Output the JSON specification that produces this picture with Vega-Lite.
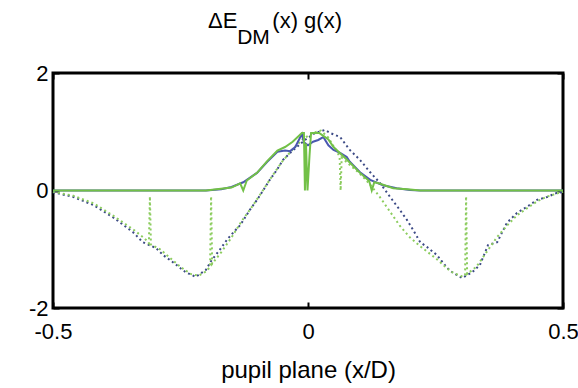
{
  "$schema": "https://vega.github.io/schema/vega-lite/v6.json",
  "autosize": "none",
  "padding": {"left": 53, "top": 73, "right": 15, "bottom": 80},
  "width": 510,
  "height": 235,
  "title": {
    "text": "ΔE\u00a0\u00a0\u00a0\u00a0\u00a0\u2009(x) g(x)",
    "subtitle": "\u200b\u00a0\u00a0\u00a0\u00a0\u00a0DM",
    "anchor": "start",
    "frame": "group",
    "dx": 155,
    "offset": 13,
    "subtitlePadding": -6,
    "font": "Liberation Sans, sans-serif",
    "subtitleFont": "Liberation Sans, sans-serif",
    "fontSize": 22,
    "subtitleFontSize": 21,
    "fontWeight": "normal",
    "color": "#000",
    "subtitleColor": "#000"
  },
  "config": {
    "view": {"stroke": "#000", "strokeWidth": 3},
    "axis": {
      "labelFont": "Liberation Sans, sans-serif",
      "titleFont": "Liberation Sans, sans-serif",
      "labelFontSize": 22,
      "titleFontSize": 24,
      "titleFontWeight": "normal",
      "labelColor": "#000",
      "titleColor": "#000",
      "domain": false,
      "grid": false,
      "tickColor": "#000",
      "tickWidth": 2
    }
  },
  "resolve": {"axis": {"x": "independent", "y": "independent"}},
  "datasets": {
    "curves": [
      {"s": "bd", "x": -0.5, "y": -0.03}, {"s": "bd", "x": -0.46, "y": -0.11}, {"s": "bd", "x": -0.42, "y": -0.25}, {"s": "bd", "x": -0.38, "y": -0.47}, {"s": "bd", "x": -0.343, "y": -0.71}, {"s": "bd", "x": -0.324, "y": -0.88}, {"s": "bd", "x": -0.298, "y": -0.98}, {"s": "bd", "x": -0.284, "y": -1.1}, {"s": "bd", "x": -0.265, "y": -1.22}, {"s": "bd", "x": -0.24, "y": -1.39}, {"s": "bd", "x": -0.22, "y": -1.47}, {"s": "bd", "x": -0.2, "y": -1.35}, {"s": "bd", "x": -0.19, "y": -1.2}, {"s": "bd", "x": -0.173, "y": -1.01}, {"s": "bd", "x": -0.159, "y": -0.84}, {"s": "bd", "x": -0.147, "y": -0.72}, {"s": "bd", "x": -0.133, "y": -0.59}, {"s": "bd", "x": -0.114, "y": -0.33}, {"s": "bd", "x": -0.1, "y": -0.16}, {"s": "bd", "x": -0.088, "y": 0.0}, {"s": "bd", "x": -0.075, "y": 0.18}, {"s": "bd", "x": -0.061, "y": 0.35}, {"s": "bd", "x": -0.049, "y": 0.52}, {"s": "bd", "x": -0.035, "y": 0.64}, {"s": "bd", "x": -0.022, "y": 0.74}, {"s": "bd", "x": -0.006, "y": 0.86}, {"s": "bd", "x": 0.014, "y": 0.98}, {"s": "bd", "x": 0.033, "y": 1.03}, {"s": "bd", "x": 0.043, "y": 0.98}, {"s": "bd", "x": 0.063, "y": 0.91}, {"s": "bd", "x": 0.082, "y": 0.69}, {"s": "bd", "x": 0.102, "y": 0.52}, {"s": "bd", "x": 0.122, "y": 0.31}, {"s": "bd", "x": 0.141, "y": 0.13}, {"s": "bd", "x": 0.161, "y": -0.11}, {"s": "bd", "x": 0.18, "y": -0.33}, {"s": "bd", "x": 0.194, "y": -0.5}, {"s": "bd", "x": 0.206, "y": -0.67}, {"s": "bd", "x": 0.22, "y": -0.88}, {"s": "bd", "x": 0.233, "y": -0.96}, {"s": "bd", "x": 0.253, "y": -1.1}, {"s": "bd", "x": 0.273, "y": -1.32}, {"s": "bd", "x": 0.284, "y": -1.4}, {"s": "bd", "x": 0.302, "y": -1.49}, {"s": "bd", "x": 0.322, "y": -1.39}, {"s": "bd", "x": 0.337, "y": -1.27}, {"s": "bd", "x": 0.353, "y": -0.93}, {"s": "bd", "x": 0.371, "y": -0.88}, {"s": "bd", "x": 0.39, "y": -0.55}, {"s": "bd", "x": 0.41, "y": -0.38}, {"s": "bd", "x": 0.429, "y": -0.28}, {"s": "bd", "x": 0.449, "y": -0.16}, {"s": "bd", "x": 0.469, "y": -0.11}, {"s": "bd", "x": 0.488, "y": -0.04}, {"s": "bd", "x": 0.5, "y": -0.03},

      {"s": "gd", "x": -0.5, "y": -0.02}, {"s": "gd", "x": -0.46, "y": -0.09}, {"s": "gd", "x": -0.42, "y": -0.22}, {"s": "gd", "x": -0.38, "y": -0.44}, {"s": "gd", "x": -0.34, "y": -0.68}, {"s": "gd", "x": -0.32, "y": -0.82}, {"s": "gd", "x": -0.312, "y": -0.9}, {"s": "gd", "x": -0.31, "y": -0.1}, {"s": "gd", "x": -0.308, "y": -0.92}, {"s": "gd", "x": -0.29, "y": -1.0}, {"s": "gd", "x": -0.27, "y": -1.15}, {"s": "gd", "x": -0.25, "y": -1.3}, {"s": "gd", "x": -0.23, "y": -1.42}, {"s": "gd", "x": -0.215, "y": -1.45}, {"s": "gd", "x": -0.2, "y": -1.38}, {"s": "gd", "x": -0.192, "y": -1.3}, {"s": "gd", "x": -0.19, "y": -0.1}, {"s": "gd", "x": -0.188, "y": -1.25}, {"s": "gd", "x": -0.17, "y": -1.05}, {"s": "gd", "x": -0.15, "y": -0.8}, {"s": "gd", "x": -0.13, "y": -0.52}, {"s": "gd", "x": -0.11, "y": -0.28}, {"s": "gd", "x": -0.09, "y": -0.02}, {"s": "gd", "x": -0.07, "y": 0.25}, {"s": "gd", "x": -0.05, "y": 0.5}, {"s": "gd", "x": -0.03, "y": 0.7}, {"s": "gd", "x": -0.01, "y": 0.88}, {"s": "gd", "x": 0.01, "y": 0.98}, {"s": "gd", "x": 0.025, "y": 1.02}, {"s": "gd", "x": 0.04, "y": 0.9}, {"s": "gd", "x": 0.055, "y": 0.68}, {"s": "gd", "x": 0.062, "y": 0.58}, {"s": "gd", "x": 0.064, "y": 0.0}, {"s": "gd", "x": 0.066, "y": 0.56}, {"s": "gd", "x": 0.08, "y": 0.45}, {"s": "gd", "x": 0.1, "y": 0.3}, {"s": "gd", "x": 0.12, "y": 0.12}, {"s": "gd", "x": 0.14, "y": -0.1}, {"s": "gd", "x": 0.16, "y": -0.35}, {"s": "gd", "x": 0.18, "y": -0.6}, {"s": "gd", "x": 0.2, "y": -0.8}, {"s": "gd", "x": 0.22, "y": -0.95}, {"s": "gd", "x": 0.25, "y": -1.15}, {"s": "gd", "x": 0.28, "y": -1.38}, {"s": "gd", "x": 0.3, "y": -1.46}, {"s": "gd", "x": 0.308, "y": -1.45}, {"s": "gd", "x": 0.31, "y": -0.1}, {"s": "gd", "x": 0.312, "y": -1.42}, {"s": "gd", "x": 0.33, "y": -1.3}, {"s": "gd", "x": 0.35, "y": -1.05}, {"s": "gd", "x": 0.37, "y": -0.8}, {"s": "gd", "x": 0.39, "y": -0.6}, {"s": "gd", "x": 0.41, "y": -0.42}, {"s": "gd", "x": 0.43, "y": -0.3}, {"s": "gd", "x": 0.45, "y": -0.18}, {"s": "gd", "x": 0.47, "y": -0.1}, {"s": "gd", "x": 0.5, "y": -0.02},

      {"s": "bs", "x": -0.5, "y": 0}, {"s": "bs", "x": -0.2, "y": 0}, {"s": "bs", "x": -0.17, "y": 0.02}, {"s": "bs", "x": -0.15, "y": 0.06}, {"s": "bs", "x": -0.127, "y": 0.14}, {"s": "bs", "x": -0.11, "y": 0.24}, {"s": "bs", "x": -0.1, "y": 0.3}, {"s": "bs", "x": -0.08, "y": 0.49}, {"s": "bs", "x": -0.06, "y": 0.66}, {"s": "bs", "x": -0.045, "y": 0.68}, {"s": "bs", "x": -0.035, "y": 0.67}, {"s": "bs", "x": -0.025, "y": 0.74}, {"s": "bs", "x": -0.012, "y": 0.96}, {"s": "bs", "x": -0.008, "y": 0.82}, {"s": "bs", "x": 0.0, "y": 0.77}, {"s": "bs", "x": 0.01, "y": 0.83}, {"s": "bs", "x": 0.02, "y": 0.86}, {"s": "bs", "x": 0.03, "y": 0.91}, {"s": "bs", "x": 0.04, "y": 0.77}, {"s": "bs", "x": 0.05, "y": 0.69}, {"s": "bs", "x": 0.063, "y": 0.64}, {"s": "bs", "x": 0.076, "y": 0.57}, {"s": "bs", "x": 0.082, "y": 0.49}, {"s": "bs", "x": 0.102, "y": 0.31}, {"s": "bs", "x": 0.122, "y": 0.18}, {"s": "bs", "x": 0.147, "y": 0.09}, {"s": "bs", "x": 0.174, "y": 0.04}, {"s": "bs", "x": 0.2, "y": 0.01}, {"s": "bs", "x": 0.22, "y": 0}, {"s": "bs", "x": 0.5, "y": 0},

      {"s": "gs", "x": -0.5, "y": 0}, {"s": "gs", "x": -0.2, "y": 0}, {"s": "gs", "x": -0.15, "y": 0.05}, {"s": "gs", "x": -0.133, "y": 0.12}, {"s": "gs", "x": -0.127, "y": 0.0}, {"s": "gs", "x": -0.12, "y": 0.17}, {"s": "gs", "x": -0.1, "y": 0.3}, {"s": "gs", "x": -0.08, "y": 0.5}, {"s": "gs", "x": -0.06, "y": 0.68}, {"s": "gs", "x": -0.045, "y": 0.74}, {"s": "gs", "x": -0.03, "y": 0.83}, {"s": "gs", "x": -0.012, "y": 0.98}, {"s": "gs", "x": -0.008, "y": 0.98}, {"s": "gs", "x": -0.006, "y": 0.0}, {"s": "gs", "x": -0.004, "y": 0.8}, {"s": "gs", "x": -0.001, "y": 0.0}, {"s": "gs", "x": 0.003, "y": 0.6}, {"s": "gs", "x": 0.006, "y": 0.98}, {"s": "gs", "x": 0.022, "y": 0.98}, {"s": "gs", "x": 0.03, "y": 0.93}, {"s": "gs", "x": 0.04, "y": 0.87}, {"s": "gs", "x": 0.05, "y": 0.74}, {"s": "gs", "x": 0.077, "y": 0.52}, {"s": "gs", "x": 0.102, "y": 0.3}, {"s": "gs", "x": 0.12, "y": 0.16}, {"s": "gs", "x": 0.125, "y": 0.0}, {"s": "gs", "x": 0.13, "y": 0.14}, {"s": "gs", "x": 0.14, "y": 0.12}, {"s": "gs", "x": 0.167, "y": 0.04}, {"s": "gs", "x": 0.195, "y": 0.02}, {"s": "gs", "x": 0.22, "y": 0}, {"s": "gs", "x": 0.5, "y": 0}
    ]
  },
  "data": {"name": "curves"},
  "layer": [
    {
      "transform": [{"filter": "datum.s === 'bd'"}],
      "mark": {"type": "line", "color": "#3c4a86", "strokeWidth": 2, "strokeDash": [2, 3]},
      "encoding": {
        "x": {"field": "x", "type": "quantitative", "scale": {"domain": [-0.5, 0.5], "nice": false, "zero": false},
          "axis": {"orient": "bottom", "values": [-0.5, 0, 0.5], "labelExpr": "'' + datum.value", "tickSize": -6, "labelPadding": 19, "labelFlush": false, "title": "pupil plane (x/D)", "titlePadding": 16}},
        "y": {"field": "y", "type": "quantitative", "scale": {"domain": [-2, 2], "nice": false},
          "axis": {"orient": "left", "values": [-2, 0, 2], "labelExpr": "'' + datum.value", "tickSize": -6, "labelPadding": 11, "labelFlush": false, "title": null}}
      }
    },
    {
      "transform": [{"filter": "datum.s === 'gd'"}],
      "mark": {"type": "line", "color": "#8ccc5e", "strokeWidth": 2, "strokeDash": [2, 3]},
      "encoding": {
        "x": {"field": "x", "type": "quantitative", "scale": {"domain": [-0.5, 0.5], "nice": false, "zero": false},
          "axis": {"orient": "top", "values": [-0.5, 0, 0.5], "labels": false, "tickSize": -6, "title": null}},
        "y": {"field": "y", "type": "quantitative", "scale": {"domain": [-2, 2], "nice": false},
          "axis": {"orient": "right", "values": [-2, 0, 2], "labels": false, "tickSize": -6, "title": null}}
      }
    },
    {
      "transform": [{"filter": "datum.s === 'bs'"}],
      "mark": {"type": "line", "color": "#4a58b0", "strokeWidth": 2},
      "encoding": {
        "x": {"field": "x", "type": "quantitative", "scale": {"domain": [-0.5, 0.5], "nice": false, "zero": false}, "axis": null},
        "y": {"field": "y", "type": "quantitative", "scale": {"domain": [-2, 2], "nice": false}, "axis": null}
      }
    },
    {
      "transform": [{"filter": "datum.s === 'gs'"}],
      "mark": {"type": "line", "color": "#72c047", "strokeWidth": 2},
      "encoding": {
        "x": {"field": "x", "type": "quantitative", "scale": {"domain": [-0.5, 0.5], "nice": false, "zero": false}, "axis": null},
        "y": {"field": "y", "type": "quantitative", "scale": {"domain": [-2, 2], "nice": false}, "axis": null}
      }
    }
  ]
}
